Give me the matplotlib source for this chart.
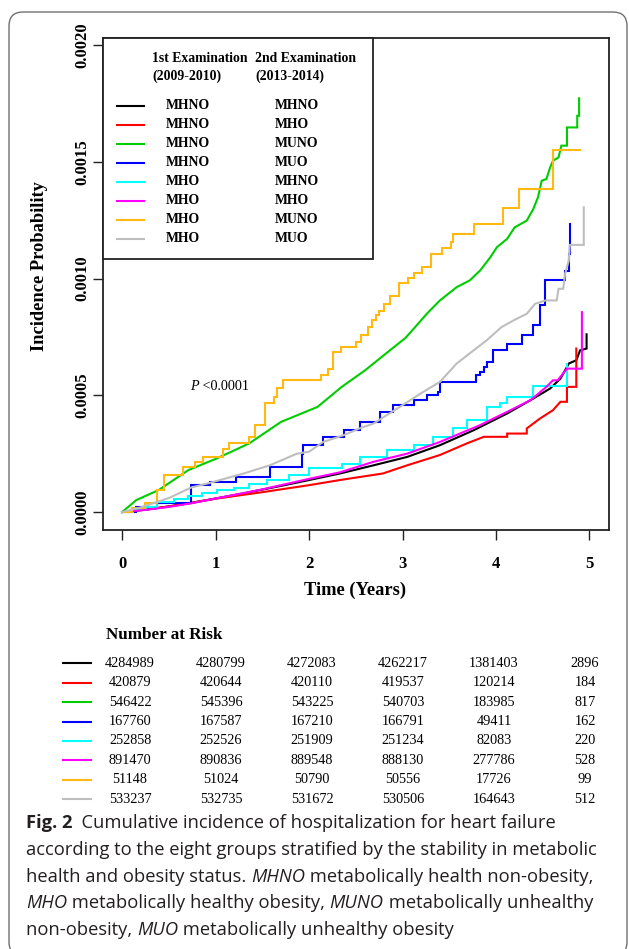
import numpy as np
import matplotlib
matplotlib.use("Agg")
import matplotlib.pyplot as plt
from matplotlib.patches import Rectangle, FancyBboxPatch
from matplotlib.lines import Line2D
from matplotlib.transforms import IdentityTransform

W, H = 629, 949
SERIF = "Liberation Serif"
SANS = "Open Sans"

# groups: 1st examination (2009-2010) -> 2nd examination (2013-2014)
first_exam = ["MHNO", "MHNO", "MHNO", "MHNO", "MHO", "MHO", "MHO", "MHO"]
second_exam = ["MHNO", "MHO", "MUNO", "MUO", "MHNO", "MHO", "MUNO", "MUO"]
colors = ["black", "#FF0000", "#00CD00", "#0000FF", "#00FFFF", "#FF00FF", "#FFB90F", "#BEBEBE"]

# cumulative incidence curves, time in years, probability in units of 1e-4
t_mhno_mhno = [0, 0.25, 0.5, 0.75, 1.0, 1.25, 1.5, 1.75, 2.0, 2.33, 2.69, 3.05, 3.40, 3.76,
               4.12, 4.40, 4.58, 4.69, 4.78, 4.86, 4.90, 4.97, 4.97]
p_mhno_mhno = [0, 0.10, 0.24, 0.40, 0.58, 0.76, 0.96, 1.16, 1.37, 1.65, 2.00, 2.36, 2.86, 3.50,
               4.22, 4.86, 5.29, 5.71, 6.36, 6.50, 6.92, 7.00, 7.61]

t_mhno_mho = [0, 0.25, 0.5, 0.75, 1.0, 1.5, 2.0, 2.33, 2.79, 3.05, 3.40, 3.69, 3.87, 4.12,
              4.12, 4.33, 4.33, 4.47, 4.61, 4.69, 4.76, 4.76, 4.86, 4.86]
p_mhno_mho = [0, 0.10, 0.24, 0.40, 0.57, 0.85, 1.15, 1.37, 1.65, 2.00, 2.44, 2.94, 3.22, 3.22,
              3.36, 3.36, 3.58, 4.00, 4.36, 4.72, 4.72, 5.36, 5.36, 7.00]

t_mhno_muno = [0, 0.15, 0.39, 0.71, 1.01, 1.36, 1.70, 2.09, 2.35, 2.60, 2.82, 3.03, 3.12, 3.26,
               3.40, 3.58, 3.72, 3.83, 3.94, 4.01, 4.12, 4.20, 4.33, 4.40, 4.45, 4.49, 4.54,
               4.58, 4.61, 4.67, 4.70, 4.76, 4.76, 4.87, 4.87, 4.89, 4.89]
p_mhno_muno = [0, 0.51, 0.94, 1.80, 2.29, 2.94, 3.86, 4.50, 5.36, 6.07, 6.78, 7.45, 7.85, 8.49,
               9.06, 9.63, 9.92, 10.34, 10.91, 11.34, 11.70, 12.19, 12.48, 12.98, 13.48, 14.19, 14.26,
               14.76, 15.04, 15.19, 15.69, 15.69, 16.47, 16.47, 16.97, 16.97, 17.72]

t_mhno_muo = [0, 0.15, 0.37, 0.74, 0.94, 1.22, 1.58, 1.92, 1.94, 2.15, 2.37, 2.54, 2.76, 2.90,
              3.12, 3.26, 3.38, 3.40, 3.79, 3.83, 3.87, 3.90, 3.97, 4.12, 4.28, 4.40, 4.47, 4.52,
              4.74, 4.78, 4.79]
p_mhno_muo = [0, 0.23, 0.37, 1.15, 1.30, 1.51, 1.94, 2.50, 2.86, 3.22, 3.50, 3.86, 4.29, 4.57,
              4.79, 5.00, 5.14, 5.57, 5.85, 6.00, 6.21, 6.42, 6.92, 7.21, 7.56, 7.99, 8.85, 9.92,
              10.34, 11.06, 12.34]

t_mho_mhno = [0, 0.12, 0.25, 0.37, 0.55, 0.70, 0.85, 1.01, 1.20, 1.36, 1.55, 1.79, 2.0, 2.35,
              2.54, 2.83, 3.12, 3.33, 3.54, 3.69, 3.90, 4.04, 4.12, 4.40, 4.76, 4.76]
p_mho_mhno = [0, 0.08, 0.20, 0.42, 0.55, 0.68, 0.80, 0.95, 1.05, 1.18, 1.35, 1.58, 1.87, 2.05,
              2.36, 2.65, 2.86, 3.22, 3.58, 3.95, 4.50, 4.65, 4.93, 5.39, 6.36, 6.36]

t_mho_mho = [0, 0.25, 0.5, 0.75, 1.0, 1.5, 2.0, 2.33, 2.69, 3.05, 3.40, 3.83, 4.12, 4.37,
             4.54, 4.61, 4.66, 4.76, 4.92, 4.92]
p_mho_mho = [0, 0.09, 0.22, 0.38, 0.58, 0.97, 1.42, 1.70, 2.15, 2.50, 3.00, 3.72, 4.29, 4.79,
             5.36, 5.64, 5.64, 6.14, 6.14, 8.56]

t_mho_muno = [0, 0.11, 0.24, 0.37, 0.45, 0.65, 0.78, 0.86, 1.08, 1.14, 1.36, 1.42, 1.53, 1.62,
              1.66, 1.72, 2.13, 2.20, 2.26, 2.34, 2.50, 2.56, 2.63, 2.67, 2.72, 2.75, 2.80, 2.87,
              2.96, 3.06, 3.12, 3.21, 3.31, 3.42, 3.52, 3.54, 3.77, 4.08, 4.25, 4.61, 4.90]
p_mho_muno = [0, 0.16, 0.37, 0.94, 1.58, 1.94, 2.15, 2.36, 2.72, 2.94, 3.22, 3.72, 4.66, 4.93,
              5.29, 5.64, 5.86, 6.14, 6.85, 7.07, 7.28, 7.56, 7.92, 8.21, 8.42, 8.63, 8.92, 9.27,
              9.80, 10.03, 10.23, 10.48, 11.03, 11.31, 11.58, 11.91, 12.34, 13.00, 13.83, 15.50, 15.50]

t_mho_muo = [0, 0.2, 0.5, 0.74, 0.94, 1.30, 1.58, 1.87, 2.0, 2.15, 2.37, 2.54, 2.69, 2.97, 3.22,
             3.40, 3.58, 3.76, 3.90, 4.06, 4.19, 4.33, 4.42, 4.53, 4.65, 4.67, 4.72, 4.74, 4.78,
             4.79, 4.94, 4.94]
p_mho_muo = [0, 0.20, 0.60, 1.05, 1.25, 1.65, 2.00, 2.50, 2.58, 3.00, 3.29, 3.58, 3.79, 4.50, 5.14,
             5.57, 6.36, 6.92, 7.35, 7.92, 8.21, 8.49, 8.92, 9.06, 9.06, 9.56, 9.56, 10.20, 10.77,
             11.44, 11.44, 13.05]

curve_times = [t_mhno_mhno, t_mhno_mho, t_mhno_muno, t_mhno_muo,
               t_mho_mhno, t_mho_mho, t_mho_muno, t_mho_muo]
curve_probs = [p_mhno_mhno, p_mhno_mho, p_mhno_muno, p_mhno_muo,
               p_mho_mhno, p_mho_mho, p_mho_muno, p_mho_muo]
stepped = [False, False, False, True, True, False, True, False]

# number at risk at years 0..5
risk_years = [0, 1, 2, 3, 4, 5]
risk_mhno_mhno = [4284989, 4280799, 4272083, 4262217, 1381403, 2896]
risk_mhno_mho = [420879, 420644, 420110, 419537, 120214, 184]
risk_mhno_muno = [546422, 545396, 543225, 540703, 183985, 817]
risk_mhno_muo = [167760, 167587, 167210, 166791, 49411, 162]
risk_mho_mhno = [252858, 252526, 251909, 251234, 82083, 220]
risk_mho_mho = [891470, 890836, 889548, 888130, 277786, 528]
risk_mho_muno = [51148, 51024, 50790, 50556, 17726, 99]
risk_mho_muo = [533237, 532735, 531672, 530506, 164643, 512]
risk_rows = [risk_mhno_mhno, risk_mhno_mho, risk_mhno_muno, risk_mhno_muo,
             risk_mho_mhno, risk_mho_mho, risk_mho_muno, risk_mho_muo]


def fx(px):
    return px / W


def fy(py):
    return 1 - py / H


fig = plt.figure(figsize=(W / 100, H / 100), dpi=100)

# rounded frame of the figure panel
frame = FancyBboxPatch((9, H - 956), 618, 944, boxstyle="round,pad=0,rounding_size=14",
                       transform=IdentityTransform(), fill=False, ec="#707070", lw=1.0)
fig.add_artist(frame)

# main plot
ax = fig.add_axes([fx(103.5), fy(530), (609 - 103.5) / W, (530 - 38) / H])
for t, p, c, st in zip(curve_times, curve_probs, colors, stepped):
    ax.plot(t, np.array(p) * 1e-4, color=c, lw=1.5,
            drawstyle="steps-post" if st else "default", solid_joinstyle="miter")

ax.set_xlim(-0.2, 5.21)
ax.set_ylim(-0.000077, 0.00203)
ax.set_xticks(risk_years)
ax.set_yticks([0, 0.0005, 0.0010, 0.0015, 0.0020])
ax.set_yticklabels(["0.0000", "0.0005", "0.0010", "0.0015", "0.0020"])
for s in ax.spines.values():
    s.set_linewidth(1.3)
    s.set_color("#222222")
ax.tick_params(length=7.2, width=1.0, color="#222222")
ax.tick_params(axis="x", pad=11.5)
ax.tick_params(axis="y", pad=2.5)
for lab in ax.get_xticklabels():
    lab.set_fontfamily(SERIF)
    lab.set_fontweight("bold")
    lab.set_fontsize(12)
for lab in ax.get_yticklabels():
    lab.set_fontfamily(SERIF)
    lab.set_fontweight("bold")
    lab.set_fontsize(12)
    lab.set_rotation(90)
    lab.set_va("center")

fig.text(fx(40), fy(266), "Incidence Probability", rotation=90, ha="center", va="center",
         family=SERIF, weight="bold", fontsize=13.3)
fig.text(fx(355), fy(590), "Time (Years)", ha="center", va="center",
         family=SERIF, weight="bold", fontsize=13.3)

# P value
ptxt = fig.text(fx(190), fy(387), "P", ha="left", va="center", family=SERIF,
                style="italic", fontsize=10.2)
ax.annotate(" <0.0001", xy=(1, 0.5), xycoords=ptxt, ha="left", va="center",
            family=SERIF, fontsize=10.2, annotation_clip=False)

# legend block
fig.add_artist(Rectangle((fx(103.5), fy(259)), (373 - 103.5) / W, (259 - 38) / H,
                         transform=fig.transFigure, fc="white", ec="#222222", lw=1.3, zorder=5))
lkw = dict(family=SERIF, weight="bold", fontsize=9.9, va="center", ha="left", zorder=6)
fig.text(fx(152), fy(58), "1st Examination", **lkw)
fig.text(fx(255), fy(58), "2nd Examination", **lkw)
fig.text(fx(152), fy(76), "(2009-2010)", **lkw)
fig.text(fx(255), fy(76), "(2013-2014)", **lkw)
for i, (a, b, c) in enumerate(zip(first_exam, second_exam, colors)):
    y = 105.7 + 19.0 * i
    fig.add_artist(Line2D([fx(116.5), fx(144)], [fy(y), fy(y)], transform=fig.transFigure,
                          color=c, lw=1.5, zorder=6))
    fig.text(fx(166), fy(y), a, **lkw)
    fig.text(fx(275), fy(y), b, **lkw)

# number at risk table
fig.text(fx(105.5), fy(635), "Number at Risk", family=SERIF, weight="bold",
         fontsize=12.3, ha="left", va="center")
tab = fig.add_axes([0, fy(808.8), 1, (808.8 - 653.6) / H])
tab.set_xlim(-130 / 91, (W - 130) / 91)
tab.set_ylim(7.5, -0.5)
tab.axis("off")
for i, (row, c) in enumerate(zip(risk_rows, colors)):
    tab.plot([-0.736, -0.43], [i, i], color=c, lw=1.5)
    for yr, n in zip(risk_years, row):
        tab.text(yr, i, str(n), ha="center", va="center", family=SERIF, fontsize=10.3)

# caption
cap_lines = [
    [("Fig. 2", "bold"), ("  Cumulative incidence of hospitalization for heart failure", "normal")],
    [("according to the eight groups stratified by the stability in metabolic", "normal")],
    [("health and obesity status. ", "normal"), ("MHNO", "italic"),
     (" metabolically health non-obesity,", "normal")],
    [("MHO", "italic"), (" metabolically healthy obesity, ", "normal"), ("MUNO", "italic"),
     (" metabolically unhealthy", "normal")],
    [("non-obesity, ", "normal"), ("MUO", "italic"), (" metabolically unhealthy obesity", "normal")],
]
cap_y = [823, 850, 876.5, 903, 930]
for y, pieces in zip(cap_y, cap_lines):
    prev = None
    for txt, sty in pieces:
        kw = dict(family=SANS, fontsize=13.2, color="#231F20", ha="left", va="center")
        if sty == "bold":
            kw["weight"] = "bold"
        elif sty == "italic":
            kw["style"] = "italic"
        if prev is None:
            prev = fig.text(fx(26), fy(y), txt, **kw)
        else:
            prev = ax.annotate(txt, xy=(1, 0.5), xycoords=prev, annotation_clip=False, **kw)

fig.savefig("out.png", dpi=100)
